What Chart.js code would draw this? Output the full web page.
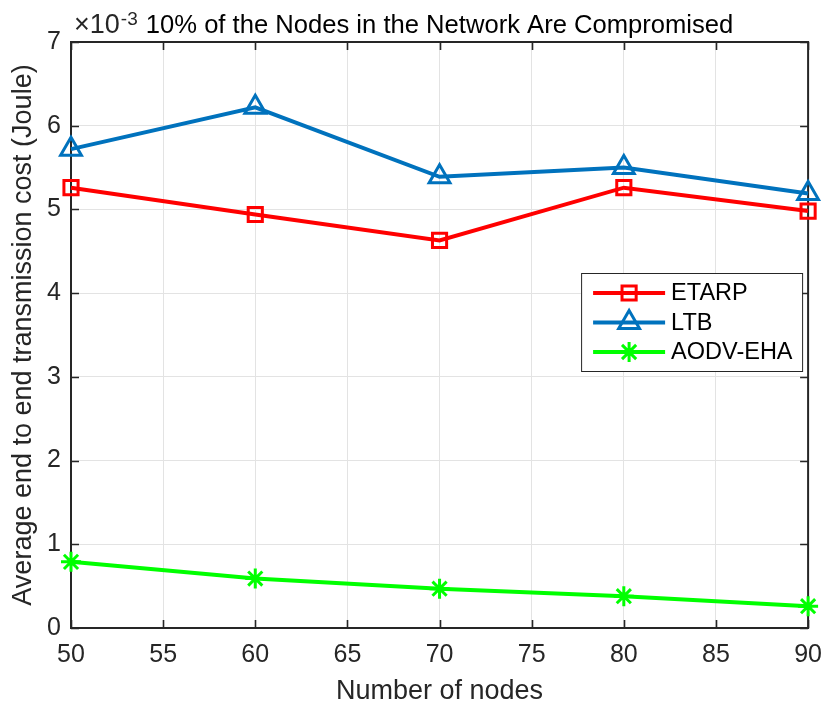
<!DOCTYPE html>
<html>
<head>
<meta charset="utf-8">
<script src="https://cdn.jsdelivr.net/npm/chart.js@4/dist/chart.umd.min.js"></script>
<style>
  html, body { margin: 0; padding: 0; background: #ffffff; }
  #wrap { width: 834px; height: 709px; }
</style>
</head>
<body>
<div id="wrap"><canvas id="c" width="834" height="709"></canvas></div>
<script>
// Number of nodes in the network
const nodeCounts = [50, 60, 70, 80, 90];
// Average end-to-end transmission cost, in units of 1e-3 Joule
const etarpCost = [5.26, 4.94, 4.63, 5.26, 4.98];
const ltbCost = [5.72, 6.22, 5.39, 5.50, 5.19];
const aodvEhaCost = [0.79, 0.59, 0.47, 0.38, 0.26];

const xTicks = [50, 55, 60, 65, 70, 75, 80, 85, 90];
const yTicks = [0, 1, 2, 3, 4, 5, 6, 7];
const seriesNames = ['ETARP', 'LTB', 'AODV-EHA'];

const titleText = '10% of the Nodes in the Network Are Compromised';
const exponentBase = '\u00d710';
const exponentPower = '-3';
const xLabel = 'Number of nodes';
const yLabel = 'Average end to end transmission cost (Joule)';

const FONT = '"Liberation Sans", Arial, Helvetica, sans-serif';
const AXIS_COLOR = '#262626';
const GRID_COLOR = '#e3e3e3';

function pts(values) {
  return nodeCounts.map((n, i) => ({ x: n, y: values[i] }));
}

const datasets = [
  { label: seriesNames[0], data: pts(etarpCost), borderColor: '#ff0000',
    pointStyle: 'rect', pointRadius: 10, pointHoverRadius: 10 },
  { label: seriesNames[1], data: pts(ltbCost), borderColor: '#0072bd',
    pointStyle: 'triangle', pointRadius: 12, pointHoverRadius: 12 },
  { label: seriesNames[2], data: pts(aodvEhaCost), borderColor: '#00ff00',
    pointStyle: 'star', pointRadius: 10, pointHoverRadius: 10 }
].map(d => Object.assign(d, {
  borderWidth: 4,
  pointBorderColor: d.borderColor,
  pointBackgroundColor: 'rgba(0,0,0,0)',
  pointBorderWidth: 3,
  tension: 0,
  fill: false,
  clip: false
}));

// Frame, inward tick marks, title with exponent and the in-plot legend
const decorations = {
  id: 'decorations',
  beforeDatasetsDraw(chart) {
    const { ctx, chartArea: a, scales } = chart;
    ctx.save();
    ctx.strokeStyle = AXIS_COLOR;
    ctx.lineWidth = 1.6;
    ctx.beginPath();
    const tl = 8;
    xTicks.forEach(v => {
      const px = Math.round(scales.x.getPixelForValue(v)) + 0.5;
      ctx.moveTo(px, a.bottom); ctx.lineTo(px, a.bottom - tl);
      ctx.moveTo(px, a.top); ctx.lineTo(px, a.top + tl);
    });
    yTicks.forEach(v => {
      const py = Math.round(scales.y.getPixelForValue(v)) + 0.5;
      ctx.moveTo(a.left, py); ctx.lineTo(a.left + tl, py);
      ctx.moveTo(a.right, py); ctx.lineTo(a.right - tl, py);
    });
    ctx.stroke();
    ctx.lineWidth = 2;
    ctx.strokeRect(a.left, a.top, a.right - a.left, a.bottom - a.top);
    ctx.restore();
  },
  afterDraw(chart) {
    const { ctx, chartArea: a } = chart;
    ctx.save();

    // exponent marker above the y axis
    ctx.fillStyle = AXIS_COLOR;
    ctx.textBaseline = 'alphabetic';
    ctx.textAlign = 'left';
    ctx.font = '27px ' + FONT;
    ctx.fillText(exponentBase, a.left + 3, 33);
    const bw = ctx.measureText(exponentBase).width;
    ctx.font = '19px ' + FONT;
    ctx.fillText(exponentPower, a.left + 3 + bw + 1, 25);

    // title
    ctx.fillStyle = '#000000';
    ctx.font = '25.6px ' + FONT;
    ctx.textAlign = 'center';
    ctx.fillText(titleText, (a.left + a.right) / 2, 33);

    // legend
    const box = { x: a.right - 227, y: a.top + 231, w: 221, h: 98 };
    ctx.fillStyle = '#ffffff';
    ctx.fillRect(box.x, box.y, box.w, box.h);
    ctx.strokeStyle = AXIS_COLOR;
    ctx.lineWidth = 1;
    ctx.strokeRect(box.x + 0.5, box.y + 0.5, box.w, box.h);
    ctx.font = '23.5px ' + FONT;
    ctx.textAlign = 'left';
    ctx.textBaseline = 'middle';
    chart.data.datasets.forEach((ds, i) => {
      const cy = box.y + 20 + i * 29.5;
      const x0 = box.x + 12, x1 = box.x + 84;
      ctx.strokeStyle = ds.borderColor;
      ctx.lineWidth = ds.borderWidth;
      ctx.beginPath();
      ctx.moveTo(x0, cy); ctx.lineTo(x1, cy);
      ctx.stroke();
      ctx.lineWidth = ds.pointBorderWidth;
      ctx.strokeStyle = ds.pointBorderColor;
      ctx.fillStyle = ds.pointBackgroundColor;
      Chart.helpers.drawPoint(ctx, {
        pointStyle: ds.pointStyle,
        radius: ds.pointRadius,
        borderWidth: ds.pointBorderWidth,
        rotation: 0
      }, (x0 + x1) / 2, cy);
      ctx.fillStyle = '#000000';
      ctx.fillText(ds.label, box.x + 90, cy + 1);
    });
    ctx.restore();
  }
};

new Chart(document.getElementById('c'), {
  type: 'line',
  data: { datasets },
  options: {
    responsive: false,
    animation: false,
    devicePixelRatio: 1,
    layout: { padding: { top: 42, right: 20, left: 0, bottom: 0 } },
    plugins: {
      legend: { display: false },
      title: { display: false },
      tooltip: { enabled: false }
    },
    scales: {
      x: {
        type: 'linear',
        min: 50, max: 90,
        afterBuildTicks: s => { s.ticks = xTicks.map(v => ({ value: v })); },
        afterFit: s => { s.height = 81; },
        grid: { color: GRID_COLOR, lineWidth: 1, drawTicks: false },
        border: { display: false },
        ticks: {
          color: AXIS_COLOR, padding: 12, maxRotation: 0, autoSkip: false,
          font: { family: FONT, size: 25 }
        },
        title: {
          display: true, text: xLabel, color: AXIS_COLOR,
          font: { family: FONT, size: 27 }, padding: { top: 0, bottom: 1 }
        }
      },
      y: {
        min: 0, max: 7,
        afterBuildTicks: s => { s.ticks = yTicks.map(v => ({ value: v })); },
        afterFit: s => { s.width = 71; },
        grid: { color: GRID_COLOR, lineWidth: 1, drawTicks: false },
        border: { display: false },
        ticks: {
          color: AXIS_COLOR, padding: 10, autoSkip: false,
          font: { family: FONT, size: 25 }
        },
        title: {
          display: true, text: yLabel, color: AXIS_COLOR,
          font: { family: FONT, size: 27 }, padding: { top: 7, bottom: 0 }
        }
      }
    }
  },
  plugins: [decorations]
});
</script>
</body>
</html>
